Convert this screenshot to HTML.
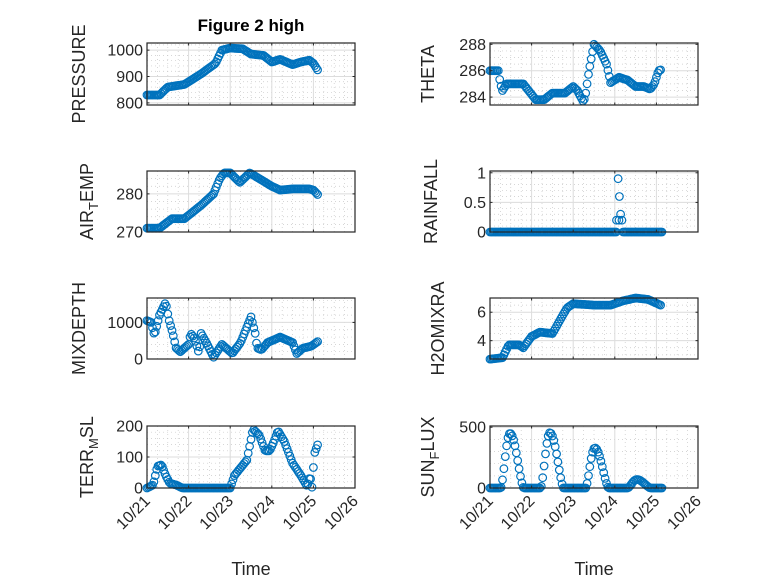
<!DOCTYPE html>
<html><head><meta charset="utf-8"><style>
html,body{margin:0;padding:0;background:#fff;}
svg{display:block;font-family:"Liberation Sans",sans-serif;}
</style></head><body>
<svg id="s" width="778" height="583" viewBox="0 0 778 583" xmlns="http://www.w3.org/2000/svg">
<rect width="778" height="583" fill="#fff"/>
<text x="251" y="31" text-anchor="middle" font-size="17" font-weight="bold" fill="#000">Figure 2 high</text>
</svg>
<script>
const S=document.getElementById('s');const NS='http://www.w3.org/2000/svg';
function el(t,a,txt){const e=document.createElementNS(NS,t);for(const k in a)e.setAttribute(k,a[k]);if(txt!==undefined)e.textContent=txt;S.appendChild(e);return e;}
function interp(kp,x){if(x<=kp[0][0])return kp[0][1];for(let i=1;i<kp.length;i++){if(x<=kp[i][0]){const a=kp[i-1],b=kp[i];return a[1]+(b[1]-a[1])*(x-a[0])/(b[0]-a[0]);}}return kp[kp.length-1][1];}
function sun(x){const peaks=[[0.48,450],[1.44,455],[2.52,330],[3.53,70]];let v=0;for(const [p,h] of peaks){let d=x-p;let w=d<0?0.22:0.33;if(Math.abs(d)<w){v=Math.max(v,h*Math.cos(d/w*Math.PI/2)**1.5);}}return v;}
const cols=[147,490],W=208,rows=[[43,105],[171,232],[298,359],[426,488]];
const panels=[
{c:0,r:0,lab:'PRESSURE',yr:[792,1027],t:[800,900,1000],m:20,kp:[[0,830],[0.3,830],[0.5,860],[0.9,870],[1.3,910],[1.65,950],[1.8,1000],[2.0,1008],[2.3,1005],[2.5,985],[2.8,980],[3.0,955],[3.2,965],[3.5,945],[3.7,955],[3.9,962],[4.0,950],[4.12,920]]},
{c:1,r:0,lab:'THETA',yr:[283.4,288.1],t:[284,286,288],m:0.5,kp:[[0,286],[0.2,286],[0.25,285],[0.3,284.5],[0.4,285],[0.8,285],[1.1,283.8],[1.3,283.8],[1.5,284.3],[1.8,284.3],[2.0,284.8],[2.1,284.5],[2.25,283.6],[2.3,284.3],[2.38,286],[2.5,288],[2.65,287.5],[2.8,286.5],[2.9,285.1],[3.1,285.5],[3.3,285.3],[3.5,284.8],[3.7,284.8],[3.85,284.6],[3.95,285],[4.05,286],[4.13,286.1]]},
{c:0,r:1,lab:'AIR_T_EMP',yr:[270,286],t:[270,280],m:2,kp:[[0,271],[0.3,271],[0.6,273.5],[0.9,273.5],[1.3,277],[1.6,280],[1.75,284],[1.85,285.5],[2.0,285.5],[2.23,283],[2.47,285.5],[2.7,284],[3.0,282],[3.2,281],[3.5,281.3],[3.9,281.3],[4.0,281],[4.13,279.5]]},
{c:1,r:1,lab:'RAINFALL',yr:[0,1.03],t:[0,0.5,1],m:0.1,kp:null},
{c:0,r:2,lab:'MIXDEPTH',yr:[0,1667],t:[0,1000],m:200,kp:[[0,1050],[0.1,1000],[0.18,650],[0.3,1200],[0.45,1550],[0.52,1100],[0.62,700],[0.7,300],[0.8,200],[1.0,400],[1.05,700],[1.15,550],[1.25,150],[1.3,700],[1.45,400],[1.6,50],[1.8,400],[2.05,150],[2.25,450],[2.5,1150],[2.6,700],[2.65,300],[2.75,250],[2.9,450],[3.2,600],[3.5,450],[3.6,150],[3.75,300],[3.95,350],[4.13,500]]},
{c:1,r:2,lab:'H2OMIXRA',yr:[2.71,7],t:[4,6],m:0.5,kp:[[0,2.7],[0.3,2.8],[0.45,3.7],[0.7,3.7],[0.8,3.5],[1.0,4.3],[1.2,4.6],[1.5,4.5],[1.85,6.3],[2.0,6.6],[2.5,6.5],[2.9,6.5],[3.2,6.8],[3.5,7.0],[3.8,6.9],[4.1,6.5]]},
{c:0,r:3,lab:'TERR_M_SL',yr:[0,200],t:[0,100,200],m:20,kp:[[0,0],[0.15,10],[0.25,70],[0.35,75],[0.45,40],[0.55,15],[0.7,10],[0.85,0],[2.0,0],[2.1,40],[2.4,90],[2.55,190],[2.7,170],[2.84,120],[2.95,120],[3.05,150],[3.15,185],[3.3,150],[3.5,80],[3.7,40],[3.85,5],[3.92,40],[3.97,0],[4.02,110],[4.13,150]]},
{c:1,r:3,lab:'SUN_F_LUX',yr:[0,510],t:[0,500],m:100,kp:'sun'}
];
for(const p of panels){
 const x0=cols[p.c],y0=rows[p.r][0],y1=rows[p.r][1],H=y1-y0;
 const X=d=>x0+d*W/5,Y=v=>y1-(v-p.yr[0])/(p.yr[1]-p.yr[0])*H;
 el('rect',{x:x0,y:y0,width:W,height:H,fill:'#fff'});
 for(let d=0.25;d<5;d+=0.25){if(Math.abs(d-Math.round(d))<1e-6)continue;el('line',{x1:X(d),x2:X(d),y1:y0,y2:y1,stroke:'#c8c8c8','stroke-width':0.7,'stroke-dasharray':'1 3'});}
 for(let v=Math.ceil(p.yr[0]/p.m)*p.m;v<=p.yr[1];v+=p.m){if(p.t.some(t=>Math.abs(t-v)<1e-6))continue;el('line',{x1:x0,x2:x0+W,y1:Y(v),y2:Y(v),stroke:'#c8c8c8','stroke-width':0.7,'stroke-dasharray':'1 3'});}
 for(let d=1;d<5;d++)el('line',{x1:X(d),x2:X(d),y1:y0,y2:y1,stroke:'#dcdcdc','stroke-width':1});
 for(const t of p.t){el('line',{x1:x0,x2:x0+W,y1:Y(t),y2:Y(t),stroke:'#dcdcdc','stroke-width':1});}
 let pts=[];
 if(p.kp===null){for(let d=0;d<=3.05;d+=1/30)pts.push([d,0]);for(let d=3.2;d<=4.15;d+=1/30)pts.push([d,0]);
  [[3.04,0.2],[3.08,0.9],[3.11,0.6],[3.14,0.3],[3.1,0.2],[3.17,0.2]].forEach(a=>pts.push(a));}
 else if(p.kp==='sun'){for(let d=0;d<=4.15;d+=1/30)pts.push([d,sun(d)]);}
 else{for(let d=0;d<=p.kp[p.kp.length-1][0]+1e-6;d+=1/30)pts.push([d,interp(p.kp,d)]);}
 for(const [d,v] of pts)el('circle',{cx:X(d).toFixed(1),cy:Y(v).toFixed(1),r:3.8,fill:'none',stroke:'#0072BD','stroke-width':1.2});
 el('rect',{x:x0,y:y0,width:W,height:H,fill:'none',stroke:'#262626','stroke-width':1.2});
 for(let d=1;d<5;d++){el('line',{x1:X(d),x2:X(d),y1:y1,y2:y1-2.5,stroke:'#262626'});el('line',{x1:X(d),x2:X(d),y1:y0,y2:y0+2.5,stroke:'#262626'});}
 for(const t of p.t){el('line',{x1:x0,x2:x0+2.5,y1:Y(t),y2:Y(t),stroke:'#262626'});el('line',{x1:x0+W,x2:x0+W-2.5,y1:Y(t),y2:Y(t),stroke:'#262626'});
  el('text',{x:x0-4,y:Y(t)+5.5,'text-anchor':'end','font-size':16,fill:'#262626'},String(t));}
 const lx=x0-(p.c===0?(p.t.some(t=>t>=1000)?62:54):(p.lab==='RAINFALL'?53:(p.lab==='THETA'?56:(p.lab==='SUN_F_LUX'?56:46)))),ly=(y0+y1)/2;
 const g=el('text',{x:lx,y:ly,'text-anchor':'middle','font-size':18,fill:'#262626',transform:`rotate(-90 ${lx} ${ly})`});
 const parts=p.lab.split('_');
 if(parts.length===1)g.textContent=p.lab;else{
  const a=document.createElementNS(NS,'tspan');a.textContent=parts[0];g.appendChild(a);
  const b=document.createElementNS(NS,'tspan');b.textContent=parts[1];b.setAttribute('font-size','13');b.setAttribute('dy','5');g.appendChild(b);
  const c=document.createElementNS(NS,'tspan');c.textContent=parts[2];c.setAttribute('dy','-5');g.appendChild(c);}
 if(p.r===3){
  for(let d=0;d<=5;d++){const tx=X(d)+4,ty=y1+14;el('text',{x:tx,y:ty,'text-anchor':'end','font-size':16,fill:'#262626',transform:`rotate(-45 ${tx} ${ty})`},'10/2'+(1+d));}
  el('text',{x:x0+W/2,y:575,'text-anchor':'middle','font-size':18,fill:'#262626'},'Time');
 }
}
</script>
</body></html>
